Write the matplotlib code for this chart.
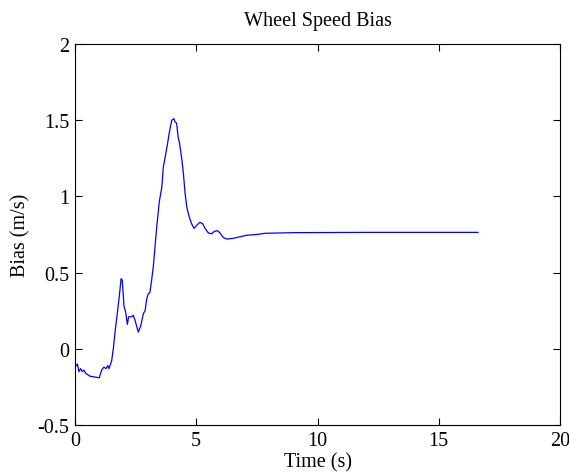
import numpy as np
import matplotlib
matplotlib.use("Agg")
import matplotlib.pyplot as plt

plt.rcParams['font.family'] = ['Liberation Serif', 'DejaVu Serif']

# wheel speed bias estimate
time_s = [0.0, 0.0, 0.1, 0.16, 0.23, 0.3, 0.37, 0.44, 0.62, 1.0, 1.1, 1.19, 1.28,
          1.35, 1.4, 1.51, 1.58, 1.65, 1.72, 1.83, 1.9, 1.95, 2.02, 2.09, 2.16,
          2.21, 2.34, 2.4, 2.47, 2.54, 2.61, 2.71, 2.82, 2.89, 2.96, 3.02, 3.09,
          3.16, 3.23, 3.3, 3.37, 3.48, 3.58, 3.64, 3.71, 3.81, 3.89, 3.99, 4.08,
          4.12, 4.19, 4.26, 4.3, 4.4, 4.47, 4.54, 4.61, 4.7, 4.81, 4.91, 5.02,
          5.15, 5.27, 5.36, 5.5, 5.64, 5.74, 5.88, 5.98, 6.12, 6.26, 6.53, 6.8,
          7.08, 7.49, 7.84, 9.0, 12.0, 16.62]
bias = [-0.21, -0.12, -0.10, -0.15, -0.13, -0.15, -0.14, -0.16, -0.18, -0.19,
        -0.14, -0.12, -0.13, -0.11, -0.13, -0.08, 0.0, 0.11, 0.2, 0.35, 0.46,
        0.45, 0.28, 0.24, 0.16, 0.21, 0.21, 0.22, 0.19, 0.15, 0.11, 0.15, 0.23,
        0.25, 0.33, 0.36, 0.37, 0.45, 0.54, 0.67, 0.80, 0.97, 1.06, 1.19, 1.25,
        1.34, 1.42, 1.50, 1.51, 1.49, 1.48, 1.38, 1.36, 1.25, 1.15, 1.02, 0.93,
        0.87, 0.82, 0.79, 0.81, 0.83, 0.82, 0.79, 0.76, 0.755, 0.77, 0.775,
        0.76, 0.73, 0.72, 0.725, 0.735, 0.745, 0.75, 0.758, 0.762, 0.764, 0.764]

fig = plt.figure(figsize=(5.69, 4.77), dpi=100)
ax = fig.add_axes([75 / 569, 1 - 426 / 477, 485 / 569, 381 / 477])

ax.plot(time_s, bias, color='#0000ff', linewidth=0.9)

ax.set_xlim(0, 20)
ax.set_ylim(-0.5, 2)
ax.set_xticks([0, 5, 10, 15, 20])
ax.set_yticks([-0.5, 0, 0.5, 1, 1.5, 2])
ax.set_yticklabels(['-0.5', '0', '0.5', '1', '1.5', '2'])
ax.tick_params(direction='in', top=True, right=True, length=5, width=0.8,
               labelsize=14.5, pad=4)
for s in ax.spines.values():
    s.set_linewidth(0.8)

ax.set_title('Wheel Speed Bias', fontsize=14.5, pad=14)
ax.set_xlabel('Time (s)', fontsize=14.5, labelpad=2)
ax.set_ylabel('Bias (m/s)', fontsize=14.5, labelpad=5)

fig.savefig('out.png', dpi=100)
